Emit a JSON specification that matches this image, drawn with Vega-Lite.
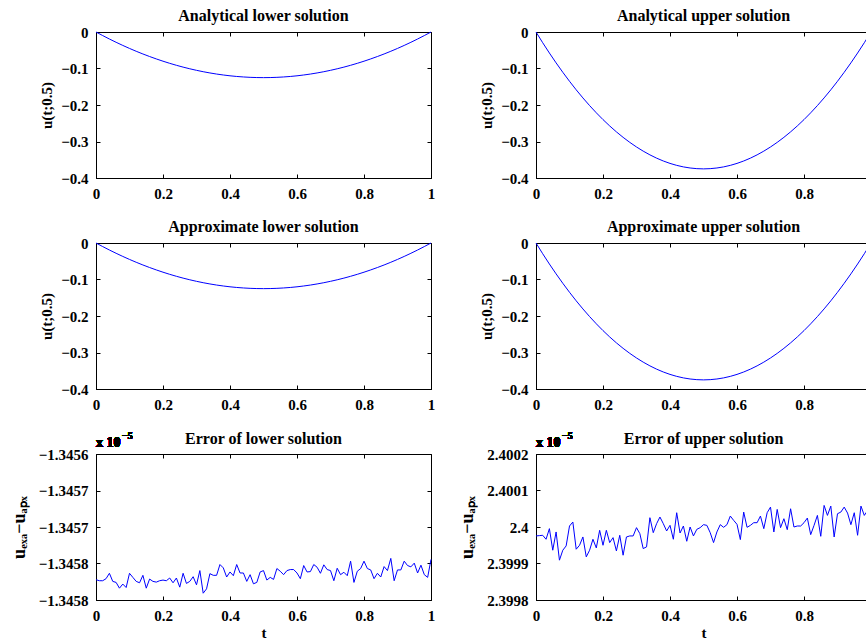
{
"$schema": "https://vega.github.io/schema/vega-lite/v6.json",
"padding": {"left": 9, "top": 7, "right": 0, "bottom": 0},
"background": "white",
"columns": 2,
"spacing": {"row": 65, "column": 105},
"bounds": "flush",
"datasets": {
"sol": [
{"t":0,"lower":0,"upper":0},{"t":0.02,"lower":-0.0098,"upper":-0.0294},{"t":0.04,"lower":-0.0192,"upper":-0.0576},{"t":0.06,"lower":-0.0282,"upper":-0.0846},{"t":0.08,"lower":-0.0368,"upper":-0.1104},{"t":0.1,"lower":-0.045,"upper":-0.135},{"t":0.12,"lower":-0.0528,"upper":-0.1584},{"t":0.14,"lower":-0.0602,"upper":-0.1806},{"t":0.16,"lower":-0.0672,"upper":-0.2016},{"t":0.18,"lower":-0.0738,"upper":-0.2214},{"t":0.2,"lower":-0.08,"upper":-0.24},{"t":0.22,"lower":-0.0858,"upper":-0.2574},{"t":0.24,"lower":-0.0912,"upper":-0.2736},{"t":0.26,"lower":-0.0962,"upper":-0.2886},{"t":0.28,"lower":-0.1008,"upper":-0.3024},{"t":0.3,"lower":-0.105,"upper":-0.315},{"t":0.32,"lower":-0.1088,"upper":-0.3264},{"t":0.34,"lower":-0.1122,"upper":-0.3366},{"t":0.36,"lower":-0.1152,"upper":-0.3456},{"t":0.38,"lower":-0.1178,"upper":-0.3534},{"t":0.4,"lower":-0.12,"upper":-0.36},{"t":0.42,"lower":-0.1218,"upper":-0.3654},{"t":0.44,"lower":-0.1232,"upper":-0.3696},{"t":0.46,"lower":-0.1242,"upper":-0.3726},{"t":0.48,"lower":-0.1248,"upper":-0.3744},{"t":0.5,"lower":-0.125,"upper":-0.375},{"t":0.52,"lower":-0.1248,"upper":-0.3744},{"t":0.54,"lower":-0.1242,"upper":-0.3726},{"t":0.56,"lower":-0.1232,"upper":-0.3696},{"t":0.58,"lower":-0.1218,"upper":-0.3654},{"t":0.6,"lower":-0.12,"upper":-0.36},{"t":0.62,"lower":-0.1178,"upper":-0.3534},{"t":0.64,"lower":-0.1152,"upper":-0.3456},{"t":0.66,"lower":-0.1122,"upper":-0.3366},{"t":0.68,"lower":-0.1088,"upper":-0.3264},{"t":0.7,"lower":-0.105,"upper":-0.315},{"t":0.72,"lower":-0.1008,"upper":-0.3024},{"t":0.74,"lower":-0.0962,"upper":-0.2886},{"t":0.76,"lower":-0.0912,"upper":-0.2736},{"t":0.78,"lower":-0.0858,"upper":-0.2574},{"t":0.8,"lower":-0.08,"upper":-0.24},{"t":0.82,"lower":-0.0738,"upper":-0.2214},{"t":0.84,"lower":-0.0672,"upper":-0.2016},{"t":0.86,"lower":-0.0602,"upper":-0.1806},{"t":0.88,"lower":-0.0528,"upper":-0.1584},{"t":0.9,"lower":-0.045,"upper":-0.135},{"t":0.92,"lower":-0.0368,"upper":-0.1104},{"t":0.94,"lower":-0.0282,"upper":-0.0846},{"t":0.96,"lower":-0.0192,"upper":-0.0576},{"t":0.98,"lower":-0.0098,"upper":-0.0294},{"t":1,"lower":0,"upper":0}
],
"err": [
{"t":0,"lower":-1.3457722,"upper":2.3999755},{"t":0.01,"lower":-1.3457736,"upper":2.3999764},{"t":0.02,"lower":-1.3457736,"upper":2.3999773},{"t":0.03,"lower":-1.3457708,"upper":2.3999664},{"t":0.04,"lower":-1.3457634,"upper":2.3999955},{"t":0.05,"lower":-1.3457745,"upper":2.3999364},{"t":0.06,"lower":-1.3457759,"upper":2.3999864},{"t":0.07,"lower":-1.3457838,"upper":2.3999091},{"t":0.08,"lower":-1.3457782,"upper":2.3999364},{"t":0.09,"lower":-1.3457829,"upper":2.3999482},
{"t":0.1,"lower":-1.3457634,"upper":2.4000027},{"t":0.11,"lower":-1.345769,"upper":2.4000136},{"t":0.12,"lower":-1.3457745,"upper":2.3999391},{"t":0.13,"lower":-1.3457764,"upper":2.39995},{"t":0.14,"lower":-1.3457662,"upper":2.3999727},{"t":0.15,"lower":-1.3457838,"upper":2.3999182},{"t":0.16,"lower":-1.3457713,"upper":2.3999364},{"t":0.17,"lower":-1.3457745,"upper":2.3999664},{"t":0.18,"lower":-1.3457755,"upper":2.3999427},{"t":0.19,"lower":-1.3457736,"upper":2.3999909},
{"t":0.2,"lower":-1.3457727,"upper":2.39995},{"t":0.21,"lower":-1.3457736,"upper":2.3999909},{"t":0.22,"lower":-1.3457699,"upper":2.3999573},{"t":0.23,"lower":-1.3457764,"upper":2.3999709},{"t":0.24,"lower":-1.3457699,"upper":2.3999345},{"t":0.25,"lower":-1.3457824,"upper":2.3999773},{"t":0.26,"lower":-1.3457634,"upper":2.3999227},{"t":0.27,"lower":-1.3457773,"upper":2.3999727},{"t":0.28,"lower":-1.3457745,"upper":2.3999755},{"t":0.29,"lower":-1.3457681,"upper":2.3999755},
{"t":0.3,"lower":-1.3457792,"upper":2.3999982},{"t":0.31,"lower":-1.3457597,"upper":2.3999818},{"t":0.32,"lower":-1.3457907,"upper":2.3999409},{"t":0.33,"lower":-1.3457847,"upper":2.3999455},{"t":0.34,"lower":-1.3457639,"upper":2.4000255},{"t":0.35,"lower":-1.3457662,"upper":2.3999845},{"t":0.36,"lower":-1.3457662,"upper":2.4000091},{"t":0.37,"lower":-1.3457514,"upper":2.4000273},{"t":0.38,"lower":-1.345756,"upper":2.4000091},{"t":0.39,"lower":-1.3457685,"upper":2.3999891},
{"t":0.4,"lower":-1.3457616,"upper":2.4000045},{"t":0.41,"lower":-1.3457667,"upper":2.3999664},{"t":0.42,"lower":-1.3457514,"upper":2.4000391},{"t":0.43,"lower":-1.345763,"upper":2.3999836},{"t":0.44,"lower":-1.345763,"upper":2.4000027},{"t":0.45,"lower":-1.3457745,"upper":2.3999609},{"t":0.46,"lower":-1.3457653,"upper":2.4},{"t":0.47,"lower":-1.3457778,"upper":2.3999755},{"t":0.48,"lower":-1.3457759,"upper":2.3999936},{"t":0.49,"lower":-1.3457616,"upper":2.3999982},
{"t":0.5,"lower":-1.3457597,"upper":2.4000064},{"t":0.51,"lower":-1.3457727,"upper":2.4000045},{"t":0.52,"lower":-1.345769,"upper":2.3999845},{"t":0.53,"lower":-1.3457718,"upper":2.3999573},{"t":0.54,"lower":-1.3457569,"upper":2.3999864},{"t":0.55,"lower":-1.3457606,"upper":2.4000064},{"t":0.56,"lower":-1.3457653,"upper":2.3999991},{"t":0.57,"lower":-1.3457597,"upper":2.4000064},{"t":0.58,"lower":-1.3457583,"upper":2.40003},{"t":0.59,"lower":-1.3457583,"upper":2.4000182},
{"t":0.6,"lower":-1.345763,"upper":2.4000073},{"t":0.61,"lower":-1.3457708,"upper":2.3999655},{"t":0.62,"lower":-1.3457528,"upper":2.4000409},{"t":0.63,"lower":-1.3457616,"upper":2.3999991},{"t":0.64,"lower":-1.3457611,"upper":2.4000045},{"t":0.65,"lower":-1.3457514,"upper":2.4000118},{"t":0.66,"lower":-1.3457551,"upper":2.4000118},{"t":0.67,"lower":-1.3457634,"upper":2.40003},{"t":0.68,"lower":-1.3457518,"upper":2.3999955},{"t":0.69,"lower":-1.3457583,"upper":2.4000391},
{"t":0.7,"lower":-1.3457597,"upper":2.4000545},{"t":0.71,"lower":-1.3457736,"upper":2.3999864},{"t":0.72,"lower":-1.3457565,"upper":2.4000482},{"t":0.73,"lower":-1.3457653,"upper":2.3999982},{"t":0.74,"lower":-1.345762,"upper":2.4000227},{"t":0.75,"lower":-1.3457667,"upper":2.3999927},{"t":0.76,"lower":-1.3457468,"upper":2.40005},{"t":0.77,"lower":-1.3457759,"upper":2.4},{"t":0.78,"lower":-1.3457606,"upper":2.4000027},{"t":0.79,"lower":-1.3457569,"upper":2.4000027},
{"t":0.8,"lower":-1.3457468,"upper":2.4000118},{"t":0.81,"lower":-1.3457569,"upper":2.4000245},{"t":0.82,"lower":-1.3457588,"upper":2.3999791},{"t":0.83,"lower":-1.3457708,"upper":2.4000045},{"t":0.84,"lower":-1.3457634,"upper":2.4000318},{"t":0.85,"lower":-1.3457685,"upper":2.3999745},{"t":0.86,"lower":-1.3457542,"upper":2.4000591},{"t":0.87,"lower":-1.3457597,"upper":2.4000318},{"t":0.88,"lower":-1.345743,"upper":2.4000573},{"t":0.89,"lower":-1.3457736,"upper":2.3999727},
{"t":0.9,"lower":-1.3457588,"upper":2.4000364},{"t":0.91,"lower":-1.3457588,"upper":2.4000409},{"t":0.92,"lower":-1.3457468,"upper":2.4000545},{"t":0.93,"lower":-1.3457528,"upper":2.4000382},{"t":0.94,"lower":-1.3457546,"upper":2.4000064},{"t":0.95,"lower":-1.3457495,"upper":2.4000391},{"t":0.96,"lower":-1.345763,"upper":2.3999773},{"t":0.97,"lower":-1.3457523,"upper":2.4000573},{"t":0.98,"lower":-1.3457653,"upper":2.4000318},{"t":0.99,"lower":-1.345769,"upper":2.4000455},
{"t":1,"lower":-1.3457444,"upper":2.40005}
]
},
"concat": [
{"title": "Analytical lower solution", "width": 335, "height": 146, "data": {"name": "sol"},
 "resolve": {"axis": {"x": "independent", "y": "independent"}},
 "layer": [
  {"mark": {"type": "line", "color": "#0000ff", "strokeWidth": 1},
   "encoding": {
    "x": {"field": "t", "type": "quantitative", "scale": {"domain": [0, 1], "nice": false}, "axis": {"values": [0, 0.2, 0.4, 0.6, 0.8, 1], "format": ".1~f", "title": null}},
    "y": {"field": "lower", "type": "quantitative", "scale": {"domain": [-0.4, 0], "nice": false}, "axis": {"values": [-0.4, -0.3, -0.2, -0.1, 0], "format": ".1~f", "title": "u(t;0.5)"}}}},
  {"mark": {"type": "line", "strokeOpacity": 0},
   "encoding": {
    "x": {"field": "t", "type": "quantitative", "axis": {"orient": "top", "values": [0, 0.2, 0.4, 0.6, 0.8, 1], "labels": false, "title": null, "domain": false}},
    "y": {"field": "lower", "type": "quantitative", "axis": {"orient": "right", "values": [-0.4, -0.3, -0.2, -0.1, 0], "labels": false, "title": null, "domain": false}}}}
 ]},
{"title": "Analytical upper solution", "width": 335, "height": 146, "data": {"name": "sol"},
 "resolve": {"axis": {"x": "independent", "y": "independent"}},
 "layer": [
  {"mark": {"type": "line", "color": "#0000ff", "strokeWidth": 1},
   "encoding": {
    "x": {"field": "t", "type": "quantitative", "scale": {"domain": [0, 1], "nice": false}, "axis": {"values": [0, 0.2, 0.4, 0.6, 0.8, 1], "format": ".1~f", "title": null}},
    "y": {"field": "upper", "type": "quantitative", "scale": {"domain": [-0.4, 0], "nice": false}, "axis": {"values": [-0.4, -0.3, -0.2, -0.1, 0], "format": ".1~f", "title": "u(t;0.5)"}}}},
  {"mark": {"type": "line", "strokeOpacity": 0},
   "encoding": {
    "x": {"field": "t", "type": "quantitative", "axis": {"orient": "top", "values": [0, 0.2, 0.4, 0.6, 0.8, 1], "labels": false, "title": null, "domain": false}},
    "y": {"field": "upper", "type": "quantitative", "axis": {"orient": "right", "values": [-0.4, -0.3, -0.2, -0.1, 0], "labels": false, "title": null, "domain": false}}}}
 ]},
{"title": "Approximate lower solution", "width": 335, "height": 146, "data": {"name": "sol"},
 "resolve": {"axis": {"x": "independent", "y": "independent"}},
 "layer": [
  {"mark": {"type": "line", "color": "#0000ff", "strokeWidth": 1},
   "encoding": {
    "x": {"field": "t", "type": "quantitative", "scale": {"domain": [0, 1], "nice": false}, "axis": {"values": [0, 0.2, 0.4, 0.6, 0.8, 1], "format": ".1~f", "title": null}},
    "y": {"field": "lower", "type": "quantitative", "scale": {"domain": [-0.4, 0], "nice": false}, "axis": {"values": [-0.4, -0.3, -0.2, -0.1, 0], "format": ".1~f", "title": "u(t;0.5)"}}}},
  {"mark": {"type": "line", "strokeOpacity": 0},
   "encoding": {
    "x": {"field": "t", "type": "quantitative", "axis": {"orient": "top", "values": [0, 0.2, 0.4, 0.6, 0.8, 1], "labels": false, "title": null, "domain": false}},
    "y": {"field": "lower", "type": "quantitative", "axis": {"orient": "right", "values": [-0.4, -0.3, -0.2, -0.1, 0], "labels": false, "title": null, "domain": false}}}}
 ]},
{"title": "Approximate upper solution", "width": 335, "height": 146, "data": {"name": "sol"},
 "resolve": {"axis": {"x": "independent", "y": "independent"}},
 "layer": [
  {"mark": {"type": "line", "color": "#0000ff", "strokeWidth": 1},
   "encoding": {
    "x": {"field": "t", "type": "quantitative", "scale": {"domain": [0, 1], "nice": false}, "axis": {"values": [0, 0.2, 0.4, 0.6, 0.8, 1], "format": ".1~f", "title": null}},
    "y": {"field": "upper", "type": "quantitative", "scale": {"domain": [-0.4, 0], "nice": false}, "axis": {"values": [-0.4, -0.3, -0.2, -0.1, 0], "format": ".1~f", "title": "u(t;0.5)"}}}},
  {"mark": {"type": "line", "strokeOpacity": 0},
   "encoding": {
    "x": {"field": "t", "type": "quantitative", "axis": {"orient": "top", "values": [0, 0.2, 0.4, 0.6, 0.8, 1], "labels": false, "title": null, "domain": false}},
    "y": {"field": "upper", "type": "quantitative", "axis": {"orient": "right", "values": [-0.4, -0.3, -0.2, -0.1, 0], "labels": false, "title": null, "domain": false}}}}
 ]},
{"title": {"text": "Error of lower solution", "offset": -16}, "width": 335, "height": 146, "data": {"name": "err"},
 "resolve": {"axis": {"x": "independent", "y": "independent"}},
 "layer": [
  {"mark": {"type": "line", "color": "#0000ff", "strokeWidth": 1},
   "encoding": {
    "x": {"field": "t", "type": "quantitative", "scale": {"domain": [0, 1], "nice": false}, "axis": {"values": [0, 0.2, 0.4, 0.6, 0.8, 1], "format": ".1~f", "title": "t", "titlePadding": 2}},
    "y": {"field": "lower", "type": "quantitative", "scale": {"domain": [-1.3458, -1.3456], "nice": false, "zero": false}, "axis": {"values": [-1.3458, -1.34575, -1.3457, -1.34565, -1.3456], "labelExpr": "format(floor(datum.value*10000+0.4)/10000, '.4f')", "title": "uₑₓₐ−uₐₚₓ", "titlePadding": 10, "titleFontSize": 18}}}},
  {"mark": {"type": "line", "strokeOpacity": 0},
   "encoding": {
    "x": {"field": "t", "type": "quantitative", "axis": {"orient": "top", "values": [0, 0.2, 0.4, 0.6, 0.8, 1], "labels": false, "title": null, "domain": false}},
    "y": {"field": "lower", "type": "quantitative", "axis": {"orient": "right", "values": [-1.3458, -1.34575, -1.3457, -1.34565, -1.3456], "labels": false, "title": null, "domain": false}}}},
  {"mark": {"type": "text", "text": "x 10", "align": "left", "baseline": "alphabetic", "dy": -7, "font": "Liberation Serif", "fontWeight": "bold", "fontSize": 14, "color": "black"},
   "encoding": {
    "x": {"datum": 0, "type": "quantitative", "axis": null},
    "y": {"datum": -1.3456, "type": "quantitative", "axis": null}}},
  {"mark": {"type": "text", "text": "−5", "align": "left", "baseline": "alphabetic", "dx": 26, "dy": -15, "font": "Liberation Serif", "fontWeight": "bold", "fontSize": 10, "color": "black"},
   "encoding": {
    "x": {"datum": 0, "type": "quantitative", "axis": null},
    "y": {"datum": -1.3456, "type": "quantitative", "axis": null}}}
 ]},
{"title": {"text": "Error of upper solution", "offset": -16}, "width": 335, "height": 146, "data": {"name": "err"},
 "resolve": {"axis": {"x": "independent", "y": "independent"}},
 "layer": [
  {"mark": {"type": "line", "color": "#0000ff", "strokeWidth": 1},
   "encoding": {
    "x": {"field": "t", "type": "quantitative", "scale": {"domain": [0, 1], "nice": false}, "axis": {"values": [0, 0.2, 0.4, 0.6, 0.8, 1], "format": ".1~f", "title": "t", "titlePadding": 2}},
    "y": {"field": "upper", "type": "quantitative", "scale": {"domain": [2.3998, 2.4002], "nice": false, "zero": false}, "axis": {"values": [2.3998, 2.3999, 2.4, 2.4001, 2.4002], "format": ".4~f", "title": "uₑₓₐ−uₐₚₓ", "titlePadding": 10, "titleFontSize": 18}}}},
  {"mark": {"type": "line", "strokeOpacity": 0},
   "encoding": {
    "x": {"field": "t", "type": "quantitative", "axis": {"orient": "top", "values": [0, 0.2, 0.4, 0.6, 0.8, 1], "labels": false, "title": null, "domain": false}},
    "y": {"field": "upper", "type": "quantitative", "axis": {"orient": "right", "values": [2.3998, 2.3999, 2.4, 2.4001, 2.4002], "labels": false, "title": null, "domain": false}}}},
  {"mark": {"type": "text", "text": "x 10", "align": "left", "baseline": "alphabetic", "dy": -7, "font": "Liberation Serif", "fontWeight": "bold", "fontSize": 14, "color": "black"},
   "encoding": {
    "x": {"datum": 0, "type": "quantitative", "axis": null},
    "y": {"datum": 2.4002, "type": "quantitative", "axis": null}}},
  {"mark": {"type": "text", "text": "−5", "align": "left", "baseline": "alphabetic", "dx": 26, "dy": -15, "font": "Liberation Serif", "fontWeight": "bold", "fontSize": 10, "color": "black"},
   "encoding": {
    "x": {"datum": 0, "type": "quantitative", "axis": null},
    "y": {"datum": 2.4002, "type": "quantitative", "axis": null}}}
 ]}
],
"config": {
 "view": {"stroke": "black", "strokeWidth": 1},
 "axis": {"grid": false, "labelFont": "Liberation Serif", "labelFontWeight": "bold", "labelFontSize": 15, "labelColor": "black", "titleFont": "Liberation Serif", "titleFontWeight": "bold", "titleFontSize": 15, "titleColor": "black", "tickColor": "black", "tickSize": -4, "labelPadding": 12, "domainColor": "black", "labelFlush": false, "titlePadding": 6, "labelOverlap": false},
 "title": {"font": "Liberation Serif", "fontWeight": "bold", "fontSize": 16, "color": "black", "offset": 1}
}
}
